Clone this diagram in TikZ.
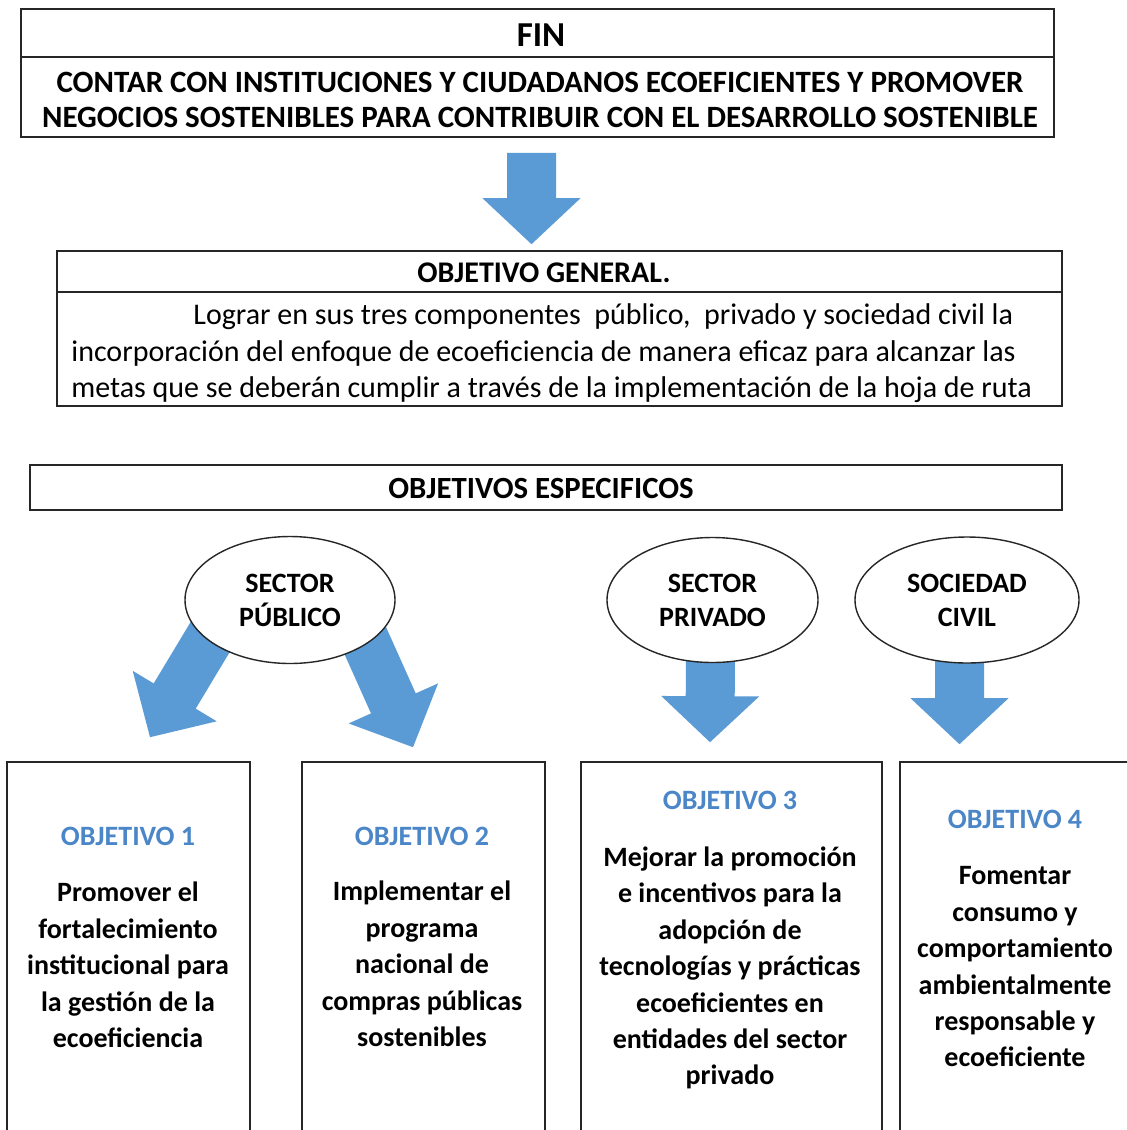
\documentclass[tikz,border=0pt]{standalone}
\usepackage{fontspec}
\setmainfont{Carlito}
\usetikzlibrary{calc,shapes.geometric}
\definecolor{arrowblue}{HTML}{5B9BD5}
\definecolor{objblue}{HTML}{4A86C8}
\pgfdeclarelayer{back}
\pgfdeclarelayer{bg}
\pgfsetlayers{back,bg,main}
\newcommand\blockarrow[3][24pt]{%
  \path ($(#3)!#1!(#2)$) coordinate (ab);
  \fill[arrowblue] ($(#2)!12.25pt!90:(#3)$) -- ($(ab)!12.25pt!90:(#3)$) -- ($(ab)!24.5pt!90:(#3)$) -- (#3)
    -- ($(ab)!24.5pt!-90:(#3)$) -- ($(ab)!12.25pt!-90:(#3)$) -- ($(#2)!12.25pt!-90:(#3)$) -- cycle;}
\begin{document}
\begin{tikzpicture}[x=0.5pt,y=-0.5pt,
  box/.style={draw=black!85,line width=0.8pt,inner sep=0pt},
  ell/.style={ellipse,draw=black!85,line width=0.7pt,fill=white,inner sep=0pt,align=center,font=\bfseries\fontsize{14}{17}\selectfont},
  objhead/.style={text=objblue,font=\bfseries\fontsize{14}{17}\selectfont},
  objbody/.style={align=center,font=\bfseries\fontsize{14}{18.2}\selectfont}]
\path[use as bounding box] (0,0) rectangle (1127,1130);
\clip (0,0) rectangle (1127,1130);
\begin{pgfonlayer}{back}
\fill[white] (0,0) rectangle (1127,1130);
\end{pgfonlayer}

% FIN
\node[box,minimum width=516.5pt,minimum height=24pt] (fin) at (537.5,33) {};
\node[font=\bfseries\fontsize{17.5}{20}\selectfont,inner sep=0pt] (fintitle) at (541,35) {FIN};
\node[box,minimum width=516.5pt,minimum height=40pt] (fintext) at (537.5,97) {};
\node[align=center,inner sep=0pt,font=\bfseries\fontsize{15.5}{17.5}\selectfont] (finbody) at (540,99.5)
  {CONTAR CON INSTITUCIONES Y CIUDADANOS ECOEFICIENTES Y PROMOVER\\NEGOCIOS SOSTENIBLES PARA CONTRIBUIR CON EL DESARROLLO SOSTENIBLE};

% Objetivo general
\node[box,minimum width=502.5pt,minimum height=20.5pt] (ogtitle) at (559.5,271.5) {};
\node[inner sep=0pt,font=\bfseries\fontsize{15}{18}\selectfont] (ogtitletext) at (544,273) {OBJETIVO GENERAL.};
\node[box,minimum width=502.5pt,minimum height=57pt] (ogbody) at (559.5,349) {};
\node[anchor=west,inner sep=0pt,align=left,font=\fontsize{15}{18.25}\selectfont] (ogtext) at (71,353.5)
  {\hspace*{61pt}Lograr en sus tres componentes \ público, \ privado y sociedad civil la\\
   incorporación del enfoque de ecoeficiencia de manera eficaz para alcanzar las\\
   metas que se deberán cumplir a través de la implementación de la hoja de ruta};

% Objetivos especificos
\node[box,minimum width=516pt,minimum height=22.5pt] (oe) at (546,487.5) {};
\node[inner sep=0pt,font=\bfseries\fontsize{15.4}{18}\selectfont] (oetext) at (541,488) {OBJETIVOS ESPECIFICOS};

% ellipses
\node[ell,minimum width=105pt,minimum height=63.5pt] (pub) at (290,600) {SECTOR\\PÚBLICO};
\node[ell,minimum width=105.5pt,minimum height=62.5pt] (priv) at (712.5,600) {SECTOR\\PRIVADO};
\node[ell,minimum width=112pt,minimum height=63pt] (civ) at (967,600) {SOCIEDAD\\CIVIL};

% bottom boxes
\node[box,minimum width=121.5pt,minimum height=194pt] (b1) at (128.5,956) {};
\node[box,minimum width=121.5pt,minimum height=194pt] (b2) at (423.5,956) {};
\node[box,minimum width=150.5pt,minimum height=194pt] (b3) at (731.5,956) {};
\node[box,minimum width=120pt,minimum height=194pt] (b4) at (1020,956) {};

\node[objhead] (h1) at (128,836) {OBJETIVO 1};
\node[objbody] (t1) at (128,965) {Promover el\\fortalecimiento\\institucional para\\la gestión de la\\ecoeficiencia};
\node[objhead] (h2) at (422,836) {OBJETIVO 2};
\node[objbody] (t2) at (422,964) {Implementar el\\programa\\nacional de\\compras públicas\\sostenibles};
\node[objhead] (h3) at (730,800) {OBJETIVO 3};
\node[objbody] (t3) at (730,968) {Mejorar la promoción\\e incentivos para la\\adopción de\\tecnologías y prácticas\\ecoeficientes en\\entidades del sector\\privado};
\node[objhead] (h4) at (1015,819) {OBJETIVO 4};
\node[objbody] (t4) at (1015,967) {Fomentar\\consumo y\\comportamiento\\ambientalmente\\responsable y\\ecoeficiente};

% arrows
\coordinate (a1s) at ($(fintext.south)+(-6,15)$);
\coordinate (a1t) at ($(ogtitle.north)+(-28,-6)$);
\coordinate (pls) at ($(pub.center)+(-63,9)$);
\coordinate (plt) at ($(b1.north)+(21.5,-24)$);
\coordinate (prs) at ($(pub.center)+(62,11)$);
\coordinate (prt) at ($(b2.north)+(-10.5,-14)$);
\coordinate (pvs) at ($(priv.center)+(-2,40)$);
\coordinate (pvt) at ($(b3.north)+(-21.5,-19)$);
\coordinate (cvs) at ($(civ.center)+(-7.5,40)$);
\coordinate (cvt) at ($(b4.north)+(-60.5,-17)$);
\begin{pgfonlayer}{bg}
\blockarrow[23pt]{a1s}{a1t}
\blockarrow[24pt]{pls}{plt}
\blockarrow[24pt]{prs}{prt}
\blockarrow[23pt]{pvs}{pvt}
\blockarrow[23pt]{cvs}{cvt}
\end{pgfonlayer}
\end{tikzpicture}
\end{document}
